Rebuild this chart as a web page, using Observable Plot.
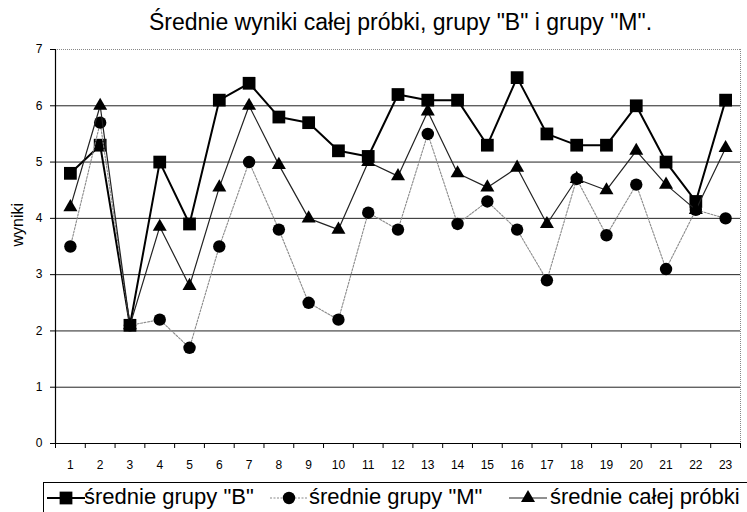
<!DOCTYPE html>
<html><head><meta charset="utf-8">
<script src="https://cdn.jsdelivr.net/npm/d3@7"></script>
<script src="https://cdn.jsdelivr.net/npm/@observablehq/plot@0.6"></script>
<style>
body{margin:0;background:#fff;font-family:"Liberation Sans",Arial,sans-serif;color:#000;}
#wrap{position:relative;width:747px;height:512px;overflow:hidden;background:#fff;}
#title{position:absolute;left:0;top:11px;width:747px;padding-left:54px;box-sizing:border-box;text-align:center;font-size:23px;line-height:23px;white-space:nowrap;}
#chart{position:absolute;left:0;top:40px;}
#legend{position:absolute;left:43px;top:482px;width:730px;height:40px;border:1px solid #000;box-sizing:border-box;}
.it{position:absolute;top:3px;font-size:22px;line-height:22px;white-space:nowrap;}
.sw{position:absolute;top:5px;}
</style></head>
<body>
<div id="wrap">
  <div id="title"></div>
  <div id="chart"></div>
  <div id="legend"></div>
</div>
<script>
const titleText = 'Średnie wyniki całej próbki, grupy "B" i grupy "M".';
const yLabel = "wyniki";
const categories = [1,2,3,4,5,6,7,8,9,10,11,12,13,14,15,16,17,18,19,20,21,22,23];
const seriesNames = ['średnie grupy "B"', 'średnie grupy "M"', 'średnie całej próbki'];
const groupB = [4.8,5.3,2.1,5.0,3.9,6.1,6.4,5.8,5.7,5.2,5.1,6.2,6.1,6.1,5.3,6.5,5.5,5.3,5.3,6.0,5.0,4.3,6.1];
const groupM = [3.5,5.7,2.1,2.2,1.7,3.5,5.0,3.8,2.5,2.2,4.1,3.8,5.5,3.9,4.3,3.8,2.9,4.7,3.7,4.6,3.1,4.15,4.0];
const whole  = [4.2,6.0,2.1,3.85,2.8,4.55,6.0,4.95,4.0,3.8,5.0,4.75,5.9,4.8,4.55,4.9,3.9,4.7,4.5,5.2,4.6,4.15,5.25];
const yTicks = [0,1,2,3,4,5,6,7];
const gridLines = [1,2,3,4,5,6];

const styles = [
  {stroke:"#000", strokeWidth:2, dash:null, symbol:"square", r:7.2},
  {stroke:"#8a8a8a", strokeWidth:1.1, dash:"2,1.5", symbol:"circle", r:6.2},
  {stroke:"#222", strokeWidth:1.2, dash:null, symbol:"triangle", r:5.2}
];
const seriesData = [groupB, groupM, whole].map(vals => categories.map((c,i)=>({x:c, y:vals[i]})));

document.getElementById("title").textContent = titleText;

const boundaries = d3.range(categories.length + 1).map(i => categories[0] - 0.5 + i);
const xMin = categories[0] - 0.5, xMax = categories[categories.length-1] + 0.5;

const seriesMarks = [];
seriesData.forEach((d, k) => {
  const s = styles[k];
  seriesMarks.push(Plot.line(d, {x:"x", y:"y", stroke:s.stroke, strokeWidth:s.strokeWidth, strokeDasharray:s.dash}));
  seriesMarks.push(Plot.dot(d, {x:"x", y:"y", symbol:()=>s.symbol, r:s.r, fill:"#000", stroke:"none"}));
});

const chart = Plot.plot({
  width:747, height:440,
  marginTop:9, marginBottom:37, marginLeft:55, marginRight:7,
  x:{type:"linear", domain:[xMin, xMax]},
  y:{domain:[yTicks[0], yTicks[yTicks.length-1]]},
  symbol:{type:"identity"},
  style:{fontFamily:'"Liberation Sans", Arial, sans-serif', fontSize:"12px", color:"#000", background:"#fff", overflow:"visible"},
  marks:[
    Plot.ruleY(gridLines, {stroke:"#222", strokeWidth:1}),
    Plot.ruleY([yTicks[yTicks.length-1]], {stroke:"#888", strokeDasharray:"1,1"}),
    Plot.ruleX([xMax], {stroke:"#888", strokeDasharray:"1,1"}),
    Plot.ruleX([xMin], {stroke:"#000", strokeWidth:1.2}),
    Plot.ruleY([yTicks[0]], {stroke:"#000", strokeWidth:1.2}),
    Plot.axisY({ticks:yTicks, tickSize:5, tickPadding:8, tickFormat:d=>String(d), label:null, stroke:"#000", fontSize:12}),
    Plot.axisX({ticks:categories, tickSize:0, tickPadding:17, tickFormat:d=>String(d), label:null, fontSize:12}),
    Plot.axisX({ticks:boundaries, tickSize:5, tickFormat:()=>"", label:null, stroke:"#000"}),
    Plot.text([yLabel], {frameAnchor:"left", rotate:-90, dx:-38, fontSize:16, text:d=>d}),
    ...seriesMarks
  ]
});
document.getElementById("chart").appendChild(chart);

// legend
const legend = document.getElementById("legend");
const swatchPos = [3, 226, 465];
const textPos = [40, 265, 506];
const swW = 38, swH = 20;
seriesNames.forEach((name, k) => {
  const s = styles[k];
  const sym = d3.symbol().type({square:d3.symbolSquare, circle:d3.symbolCircle, triangle:d3.symbolTriangle}[s.symbol]).size(Math.PI*s.r*s.r)();
  const svg = d3.create("svg").attr("class","sw").attr("width",swW).attr("height",swH).style("left", swatchPos[k]+"px");
  svg.append("line").attr("x1",0).attr("x2",swW).attr("y1",swH/2).attr("y2",swH/2)
     .attr("stroke",s.stroke).attr("stroke-width",s.strokeWidth).attr("stroke-dasharray",s.dash);
  svg.append("path").attr("d",sym).attr("transform",`translate(${swW/2},${swH/2})`).attr("fill","#000");
  legend.appendChild(svg.node());
  const t = document.createElement("span");
  t.className = "it"; t.style.left = textPos[k]+"px"; t.textContent = name;
  legend.appendChild(t);
});
</script>
</body></html>
